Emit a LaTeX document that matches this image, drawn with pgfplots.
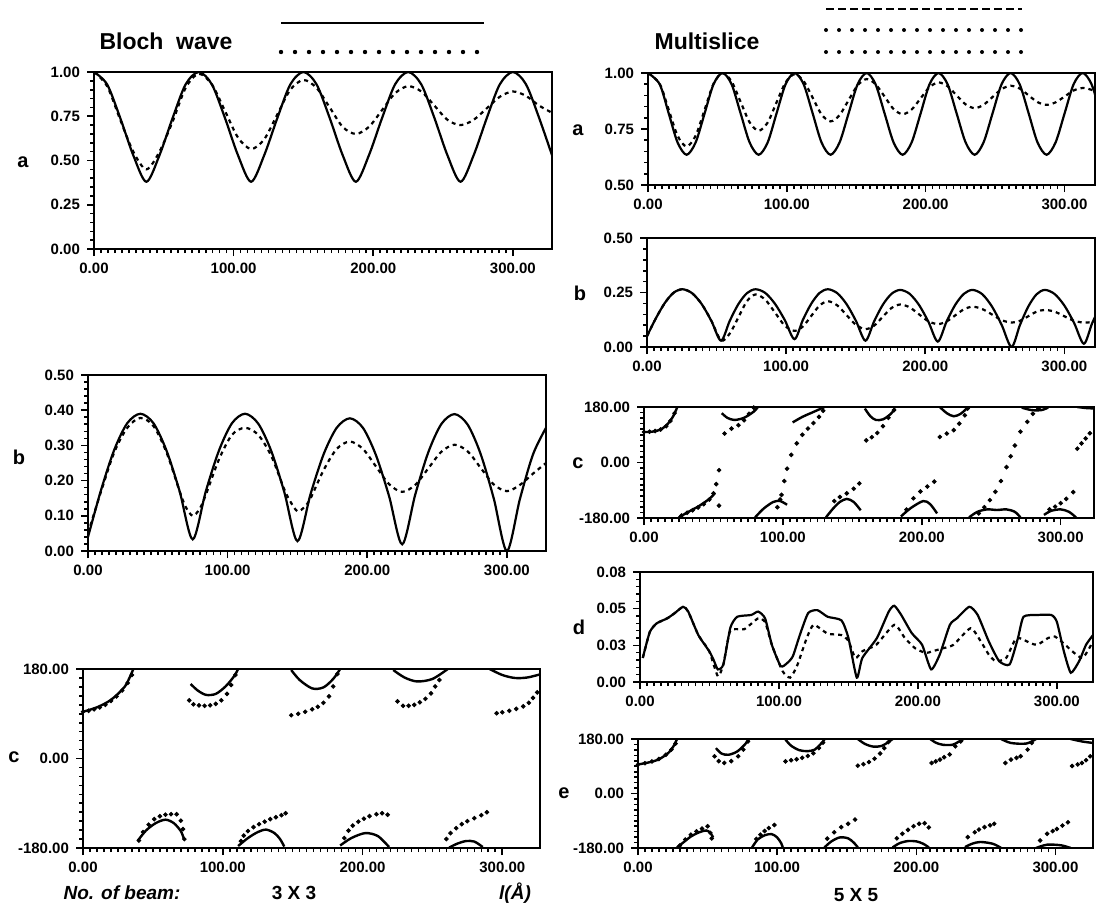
\documentclass[border=0pt]{standalone}
\usepackage{fontspec}
\setmainfont{Liberation Sans}
\usepackage{pgfplots}
\pgfplotsset{compat=1.18}
\newcommand\tl{\bfseries\fontsize{7.5}{8}\selectfont}
\newcommand\pl{\bfseries\fontsize{10}{11}\selectfont}
\pgfplotsset{
 base/.style={
  scale only axis, anchor=north west,
  xmin=0, xtick={0,100,200,300}, minor x tick num=19,
  tick pos=left, tick align=outside,
  major tick length=3.5pt, minor tick length=2pt,
  tick style={black, line width=0.8pt},
  axis line style={line width=1pt},
  tick label style={font=\tl},
  scaled ticks=false,
  unbounded coords=jump,
  /pgf/number format/fixed,
  /pgf/number format/fixed zerofill,
  /pgf/number format/precision=2,
  /pgf/number format/assume math mode=true,
 },
 s1/.style={black, line width=1.1pt, smooth, tension=0.5, no markers},
 s2/.style={black, line width=1.1pt, dash pattern=on 2pt off 2pt, smooth, tension=0.5, no markers},
 sd/.style={black, line width=1.1pt, smooth, tension=0.35, no markers},
 sd2/.style={black, line width=1.1pt, dash pattern=on 2pt off 2pt, smooth, tension=0.35, no markers},
 ph1/.style={black, line width=1.2pt, smooth, tension=0.5, no markers},
 ph2/.style={black, only marks, mark=*, mark size=0.95pt},
 phase/.style={ymin=-180, ymax=180, ytick={-180,0,180}, minor y tick num=9},
}
\begin{document}
\begin{tikzpicture}
\useasboundingbox (0,0) rectangle (548pt,-453.5pt);
% headings and legend samples
\node[font=\bfseries\fontsize{11.5}{12}\selectfont] at (83pt,-20.5pt) {Bloch~~wave};
\draw[line width=1.1pt] (140.5pt,-11.5pt) -- (242pt,-11.5pt);
\draw[line width=2.2pt, line cap=round, dash pattern=on 0pt off 7pt] (140.5pt,-26pt) -- (242pt,-26pt);
\node[font=\bfseries\fontsize{11.5}{12}\selectfont] at (353.5pt,-20.5pt) {Multislice};
\draw[line width=1.3pt, dash pattern=on 4pt off 2pt] (413pt,-4.5pt) -- (511pt,-4.5pt);
\draw[line width=2pt, line cap=round, dash pattern=on 0pt off 6.5pt] (413pt,-15pt) -- (511pt,-15pt);
\draw[line width=2pt, line cap=round, dash pattern=on 0pt off 6.5pt] (413pt,-26pt) -- (511pt,-26pt);
% panel letters
\node[font=\pl] at (11.5pt,-81pt) {a};
\node[font=\pl] at (9.5pt,-228.5pt) {b};
\node[font=\pl] at (7pt,-378.5pt) {c};
\node[font=\pl] at (289pt,-65pt) {a};
\node[font=\pl] at (290pt,-146.5pt) {b};
\node[font=\pl] at (289pt,-231.5pt) {c};
\node[font=\pl] at (289.5pt,-313.5pt) {d};
\node[font=\pl] at (282pt,-396.5pt) {e};
% bottom texts
\node[font=\bfseries\itshape\fontsize{9.5}{10}\selectfont] at (61pt,-446.5pt) {No. of beam:};
\node[font=\bfseries\fontsize{9.5}{10}\selectfont] at (147pt,-446.5pt) {3 X 3};
\node[font=\bfseries\itshape\fontsize{9.5}{10}\selectfont] at (257.5pt,-446.5pt) {l(Å)};
\node[font=\bfseries\fontsize{9.5}{10}\selectfont] at (428pt,-447.5pt) {5 X 5};

% ---------- Left a ----------
\begin{axis}[base, at={(47pt,-36pt)}, width=229pt, height=88.5pt, xmax=328,
  ymin=0, ymax=1, ytick={0,0.25,0.5,0.75,1}, minor y tick num=4]
\addplot[s1] coordinates {(0,1.00) (9.4,0.93) (18.8,0.74) (28.1,0.53) (37.5,0.38) (46.9,0.53) (56.3,0.74) (65.6,0.93) (75,1.00) (84.4,0.93) (93.8,0.74) (103.1,0.53) (112.5,0.38) (121.9,0.53) (131.3,0.74) (140.6,0.93) (150,1.00) (159.4,0.93) (168.8,0.74) (178.1,0.53) (187.5,0.38) (196.9,0.53) (206.3,0.74) (215.6,0.93) (225,1.00) (234.4,0.93) (243.8,0.74) (253.1,0.53) (262.5,0.38) (271.9,0.53) (281.3,0.74) (290.6,0.93) (300,1.00) (309.4,0.93) (318.8,0.74) (328,0.53)};
\addplot[s2] coordinates {(0,1.00) (9.4,0.92) (18.8,0.73) (28.1,0.55) (37.5,0.45) (46.9,0.55) (56.3,0.72) (65.6,0.91) (75,0.99) (84.4,0.93) (93.8,0.78) (103.1,0.63) (112.5,0.565) (121.9,0.62) (131.3,0.76) (140.6,0.90) (150,0.955) (159.4,0.91) (168.8,0.80) (178.1,0.69) (187.5,0.65) (196.9,0.69) (206.3,0.785) (215.6,0.88) (225,0.92) (234.4,0.89) (243.8,0.81) (253.1,0.73) (262.5,0.70) (271.9,0.73) (281.3,0.795) (290.6,0.86) (300,0.89) (309.4,0.865) (318.8,0.81) (328,0.77)};
\end{axis}

% ---------- Left b ----------
\begin{axis}[base, at={(44pt,-187.5pt)}, width=229pt, height=88pt, xmax=328,
  ymin=0, ymax=0.5, ytick={0,0.1,0.2,0.3,0.4,0.5}, minor y tick num=4]
\addplot[s1] coordinates {(0,0.04) (9.4,0.174) (18.75,0.287) (28.1,0.363) (37.5,0.39) (46.9,0.363) (56.25,0.285) (65.6,0.17) (75,0.033) (84.4,0.17) (93.75,0.285) (103.1,0.363) (112.5,0.39) (121.9,0.362) (131.25,0.284) (140.6,0.167) (150,0.028) (159.4,0.162) (168.75,0.275) (178.1,0.35) (187.5,0.377) (196.9,0.35) (206.25,0.272) (215.6,0.156) (225,0.019) (234.4,0.161) (243.75,0.281) (253.1,0.361) (262.5,0.389) (271.9,0.359) (281.25,0.275) (290.6,0.149) (300,0.0) (309.4,0.149) (318.75,0.275) (328,0.35)};
\addplot[s2] coordinates {(0,0.05) (9.4,0.17) (18.75,0.28) (28.1,0.35) (37.5,0.378) (46.9,0.355) (56.25,0.28) (65.6,0.17) (70,0.125) (75,0.10) (80,0.12) (84.4,0.16) (93.75,0.26) (103.1,0.33) (112.5,0.35) (121.9,0.33) (131.25,0.27) (140.6,0.175) (145,0.14) (150,0.113) (155,0.125) (159.4,0.15) (168.75,0.23) (178.1,0.29) (187.5,0.311) (196.9,0.29) (206.25,0.24) (215.6,0.19) (225,0.168) (234.4,0.188) (243.75,0.235) (253.1,0.282) (262.5,0.302) (271.9,0.283) (281.25,0.236) (290.6,0.189) (300,0.17) (309.4,0.188) (318.75,0.22) (328,0.25)};
\end{axis}

% ---------- Left c ----------
\begin{axis}[base, phase, at={(41.5pt,-334.5pt)}, width=228.5pt, height=89.5pt, xmax=327]
\addplot[ph1] coordinates {(0,94) (10,103) (20,118) (30,145) (36,180) (37,nan)
 (39,-166) (45,-145) (52,-130) (59,-123) (65,-130) (70,-146) (72,-160) (74,nan)
 (77,150) (82,137) (88,128) (95,130) (102,145) (108,165) (111,180) (111.5,nan)
 (111,-176) (118,-160) (125,-148) (131,-143) (137,-150) (141,-162) (144,-177) (146,nan)
 (149,178) (155,158) (164,141) (172,143) (179,160) (184,180) (184.5,nan)
 (184,-175) (192,-160) (202,-150) (211,-156) (219,-178) (220,nan)
 (222,178) (230,163) (239,155) (250,160) (261,180) (261.5,nan)
 (262,-179) (268,-171) (274,-166) (280,-167) (286,-178) (290,nan)
 (291,180) (300,168) (309,162) (318,163) (328,170)};
\addplot[ph2] coordinates {(0,94) (4,96) (8,99) (12,103) (16,108) (20,116) (24,125) (28,137) (32,152) (35,168)
 (40,-165) (43,-148) (47,-133) (51,-122) (55,-116) (59,-113) (63,-112) (67,-112) (70,-125) (71.5,-142) (72.5,-162)
 (76,117) (79,109) (83,107) (87,106) (91,107) (95,110) (99,117) (103,130) (106,148) (109,168)
 (113,-166) (115,-155) (118,-146) (122,-138) (126,-132) (130,-127) (134,-122) (138,-118) (142,-114) (145,-110)
 (149,87) (154,90) (159,94) (164,99) (168,104) (172,112) (176,125) (179,145) (182,170)
 (187,-160) (190,-145) (193,-135) (197,-127) (201,-121) (205,-116) (210,-112) (214,-110) (218,-113)
 (225,115) (229,106) (233,106) (237,108) (241,113) (245,120) (249,131) (252,145) (255,158)
 (260,-162) (263,-150) (267,-140) (271,-132) (275,-126) (280,-120) (285,-114) (289,-108)
 (296,91) (300,93) (305,96) (310,100) (315,105) (319,112) (322,122) (325,133)};
\end{axis}

% ---------- Right a ----------
\begin{axis}[base, at={(324pt,-36.5pt)}, width=223.5pt, height=56pt, xmax=322,
  ymin=0.5, ymax=1, ytick={0.5,0.75,1}, minor y tick num=4]
\addplot[s1] coordinates {(0,1.00) (8.4,0.95) (14.9,0.82) (21.3,0.69) (27.8,0.635) (34.3,0.69) (40.8,0.82) (47.2,0.95) (53.7,1.00) (60.2,0.95) (66.7,0.82) (73.2,0.69) (79.7,0.635) (86.2,0.69) (92.6,0.82) (99.1,0.95) (105.6,1.00) (112.1,0.95) (118.6,0.82) (125.0,0.69) (131.5,0.635) (138.0,0.69) (144.5,0.82) (151.0,0.95) (157.5,1.00) (163.9,0.95) (170.4,0.82) (176.9,0.69) (183.4,0.635) (189.9,0.69) (196.4,0.82) (202.8,0.95) (209.3,1.00) (215.8,0.95) (222.3,0.82) (228.8,0.69) (235.3,0.635) (241.7,0.69) (248.2,0.82) (254.7,0.95) (261.2,1.00) (267.7,0.95) (274.2,0.82) (280.6,0.69) (287.1,0.635) (293.6,0.69) (300.1,0.82) (306.6,0.95) (313.1,1.00) (319.5,0.95) (326,0.82)};
\addplot[s2] coordinates {(0,1.00) (8.4,0.952) (14.9,0.836) (21.3,0.72) (27.8,0.672) (34.3,0.72) (40.8,0.836) (47.2,0.952) (53.7,1.00) (60.2,0.962) (66.7,0.871) (73.2,0.78) (79.7,0.742) (86.2,0.779) (92.6,0.869) (99.1,0.958) (105.6,0.995) (112.1,0.964) (118.6,0.89) (125,0.815) (131.5,0.784) (138,0.812) (144.5,0.879) (151,0.945) (157.5,0.973) (163.9,0.95) (170.4,0.895) (176.9,0.839) (183.4,0.816) (189.9,0.837) (196.4,0.887) (202.8,0.937) (209.3,0.958) (215.8,0.941) (222.3,0.90) (228.8,0.86) (235.3,0.843) (241.7,0.858) (248.2,0.893) (254.7,0.928) (261.2,0.943) (267.7,0.931) (274.2,0.90) (280.6,0.87) (287.1,0.858) (293.6,0.869) (300.1,0.895) (306.6,0.922) (313.1,0.933) (319.5,0.925) (326,0.90)};
\end{axis}

% ---------- Right b ----------
\begin{axis}[base, at={(323.5pt,-119pt)}, width=224pt, height=54.5pt, xmax=322,
  ymin=0, ymax=0.5, ytick={0,0.25,0.5}, minor y tick num=4]
\addplot[s1] coordinates {(0,0.05) (6.4,0.132) (12.8,0.202) (19.1,0.249) (25.5,0.265) (32.4,0.247) (39.4,0.196) (46.3,0.119) (53.2,0.029) (59.4,0.119) (65.6,0.196) (71.8,0.247) (78,0.265) (85,0.248) (92,0.198) (99,0.124) (106,0.036) (112,0.124) (118,0.198) (124,0.248) (130,0.265) (136.75,0.247) (143.5,0.196) (150.25,0.119) (157,0.029) (163.25,0.118) (169.5,0.194) (175.75,0.244) (182,0.262) (188.75,0.244) (195.5,0.193) (202.25,0.116) (209,0.025) (215.25,0.116) (221.5,0.193) (227.75,0.244) (234,0.262) (241,0.242) (248,0.185) (255,0.10) (262,0.0) (268,0.10) (274,0.185) (280,0.242) (286,0.262) (293,0.243) (300,0.19) (307,0.11) (314,0.015) (320,0.11) (326,0.19)};
\addplot[s2] coordinates {(0,0.05) (6.4,0.132) (12.8,0.202) (19.1,0.249) (25.5,0.265) (32.4,0.247) (39.4,0.196) (46.3,0.12) (53.2,0.03) (59.4,0.061) (65.6,0.135) (71.8,0.21) (78,0.241) (85,0.217) (92,0.158) (99,0.098) (106,0.074) (112,0.094) (118,0.142) (124,0.19) (130,0.21) (136.75,0.191) (143.5,0.146) (150.25,0.101) (157,0.082) (163.25,0.098) (169.5,0.139) (175.75,0.179) (182,0.195) (188.75,0.182) (195.5,0.15) (202.25,0.118) (209,0.105) (215.25,0.117) (221.5,0.145) (227.75,0.173) (234,0.185) (241,0.174) (248,0.149) (255,0.123) (262,0.112) (268,0.12) (274,0.141) (280,0.162) (286,0.17) (293,0.162) (300,0.141) (307,0.12) (314,0.112) (320,0.115) (326,0.125)};
\end{axis}

% ---------- Right c ----------
\begin{axis}[base, phase, at={(322pt,-203.5pt)}, width=225pt, height=55.5pt, xmax=324]
\addplot[ph1] coordinates {(0,99) (6,100) (12,107) (17,125) (21,150) (24,180) (24.5,nan)
 (25,-178) (32,-160) (40,-140) (47,-118) (51,-100) (53,nan)
 (56,160) (60,145) (65,138) (72,145) (79,165) (82,180) (82.5,nan)
 (80,-178) (86,-150) (93,-128) (98,-125) (103,-137) (105,nan)
 (107,130) (114,148) (120,160) (126,172) (130,180) (130.5,nan)
 (131,-178) (136,-150) (141,-128) (146,-118) (151,-128) (156,-155) (157,nan)
 (159,175) (163,150) (167,138) (172,140) (177,155) (181,175) (182,nan)
 (185,-175) (192,-148) (201,-125) (206,-135) (211,-165) (212,nan)
 (213,180) (218,160) (223,150) (228,158) (233,178) (233.5,nan)
 (234,-178) (240,-160) (247,-152) (254,-154) (261,-152) (267,-160) (271,-178) (271.5,nan)
 (272,178) (279,170) (286,170) (291,178) (291.5,nan)
 (288,-170) (293,-157) (300,-152) (306,-160) (311,-178) (311.5,nan)
 (312,180) (320,176) (328,176)};
\addplot[ph2] coordinates {(0,99) (4,100) (8,102) (12,107) (16,118) (19,135) (22,160)
 (27,-172) (31,-163) (35,-155) (39,-146) (43,-135) (47,-120) (50,-100) (52,-70) (54,-25) (54,-140)
 (58,94) (63,110) (68,121) (72,137) (75.6,158) (79,178)
 (96,-145) (98,-120) (99,-105) (101,-60) (103,-20) (106,25) (110,62) (114,90) (118,110) (122,128) (126,148) (129,168)
 (137,-125) (141,-112) (146,-100) (151,-85) (155,-68)
 (160,72) (164,82) (168,96) (172,118) (176,145) (180,170)
 (189,-153) (194,-116) (199,-94) (204,-78) (209,-62)
 (213,83) (218,94) (223,105) (227,126) (231,153) (233,175)
 (241,-165) (245,-145) (249,-122) (253,-95) (257,-60) (261,-15) (264,20) (267,55) (271,100) (276,132) (280,158) (284,175)
 (292,-152) (296,-143) (300,-132) (304,-118) (309,-96)
 (312,45) (315,62) (318,78) (321,95) (325,120) (328,140)};
\end{axis}

% ---------- Right d ----------
\begin{axis}[base, at={(320pt,-286pt)}, width=226.5pt, height=55pt, xmax=326,
  ymin=0, ymax=0.075, ytick={0,0.025,0.05,0.075}, yticklabels={0.00,0.03,0.05,0.08}, minor y tick num=4]
\addplot[sd] coordinates {(2,0.0164) (7,0.034) (12,0.040) (19.6,0.0434) (25,0.047) (31,0.0513) (34.7,0.048) (42,0.032) (49.8,0.021) (53,0.015) (56,0.0086) (60,0.012) (65,0.037) (70,0.0445) (80,0.0457) (85,0.048) (90,0.0434) (95,0.025) (101.3,0.0108) (106,0.013) (110,0.0176) (115,0.032) (121,0.047) (127.7,0.049) (135,0.0445) (145,0.042) (150,0.030) (156,0.003) (160,0.0164) (170.5,0.030) (179,0.048) (183,0.052) (188,0.0457) (195.6,0.0333) (203,0.0254) (209.5,0.0086) (215.7,0.0187) (223,0.039) (228,0.0434) (237,0.0513) (243,0.0457) (251,0.0277) (258.5,0.0142) (266,0.012) (272,0.030) (276,0.0445) (286,0.0457) (296,0.0457) (300,0.041) (305,0.021) (310,0.0063) (316,0.0142) (321,0.0254) (326,0.032)};
\addplot[sd2] coordinates {(2,0.0164) (7,0.034) (12,0.040) (19.6,0.0434) (25,0.047) (31,0.0513) (34.7,0.048) (42,0.032) (49.8,0.021) (56,0.004) (60,0.012) (65,0.035) (75,0.036) (85,0.0434) (90,0.041) (95,0.025) (102.6,0.0074) (108,0.003) (113,0.011) (120,0.030) (125,0.039) (135,0.033) (145,0.032) (150,0.028) (155,0.0164) (160,0.021) (170,0.0254) (183,0.039) (190.6,0.030) (198,0.023) (205.6,0.0198) (210.5,0.021) (218,0.023) (225.6,0.0254) (238,0.0367) (246,0.0265) (251,0.0187) (256,0.0142) (263.5,0.0164) (271,0.030) (281,0.0265) (286,0.0254) (293.7,0.030) (298.6,0.031) (306,0.0254) (311,0.021) (318.6,0.0164) (326,0.0277)};
\end{axis}

% ---------- Right e ----------
\begin{axis}[base, phase, at={(319pt,-369.5pt)}, width=227.5pt, height=54.5pt, xmax=327]
\addplot[ph1] coordinates {(0,96) (8,103) (15,113) (22,135) (26,160) (28,180) (28.5,nan)
 (28,-178) (33,-160) (38,-142) (44,-128) (49,-122) (52,-130) (54,-145) (55,nan)
 (56,150) (60,132) (65,128) (71,138) (76,158) (80,180) (81,nan)
 (82,-178) (86,-152) (91,-138) (96,-134) (100,-145) (103,-165) (104,-178) (105,nan)
 (106,178) (110,158) (116,143) (122,140) (127,145) (131,162) (134,178) (134.5,nan)
 (134,-178) (139,-158) (145,-145) (151,-148) (155,-162) (158,-178) (158.5,nan)
 (158,180) (163,164) (169,155) (175,157) (180,170) (183,180) (183.5,nan)
 (183,-178) (188,-164) (194,-157) (200,-158) (205,-166) (209,-178) (209.5,nan)
 (210,180) (214,168) (219,161) (226,161) (230,170) (234,180) (234.5,nan)
 (235,-177) (240,-166) (246,-160) (255,-166) (261,-180) (261.5,nan)
 (261,180) (268,167) (279,165) (286,180) (286.5,nan)
 (286,-180) (294,-169) (304,-171) (311,-180) (311.5,nan)
 (311,180) (319,172) (327,167)};
\addplot[ph2] coordinates {(0,96) (5,100) (10,106) (15,114) (20,128) (24,145) (27,165)
 (30,-172) (34,-152) (38,-136) (42,-125) (46,-116) (50,-108) (52,-130) (53,-148)
 (55,123) (58,107) (62,101) (67,107) (72,123) (75.7,145) (79,172)
 (85,-150) (88,-136) (91,-124) (94,-114) (98,-104)
 (106,106) (110,110) (114,113) (118,118) (122,124) (126,133) (130,150) (133,168)
 (136,-149) (141,-128) (146,-111) (151,-100) (156,-86)
 (158,92) (162,97) (166,104) (170,115) (174,132) (177,150) (180,170)
 (186,-148) (190,-133) (194,-120) (198,-108) (202,-100) (206,-98) (209,-112)
 (211,101) (214,106) (217,112) (220,120) (224,129) (228,156) (232,172)
 (237,-144) (242,-128) (245,-119) (249,-111) (253,-105) (256,-100)
 (264,101) (268,112) (272,118) (275,123) (280,145) (283,167)
 (289,-155) (294,-133) (298,-124) (301,-117) (305,-106) (309,-95)
 (312,91) (316,96) (319,101) (322,110) (325,123)};
\end{axis}
\end{tikzpicture}
\end{document}
